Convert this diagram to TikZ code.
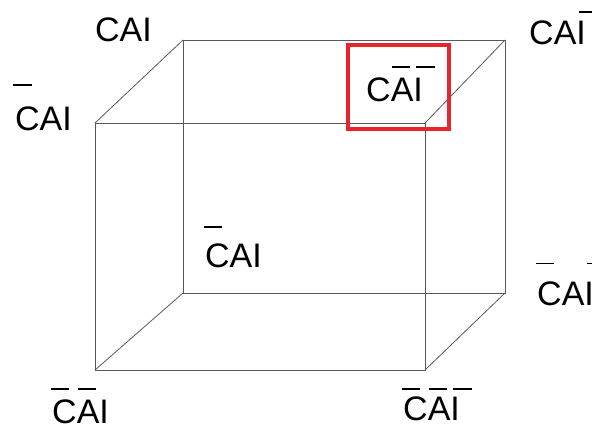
\documentclass[tikz,border=0pt]{standalone}
\usepackage{fontspec}
\setmainfont{Liberation Sans}
% bar above a letter: #1 = offset from left edge, #2 = letter; \barraise sets height
\newlength\barraise
\setlength\barraise{1.05em}
\newcommand\ovl[2]{\setbox0\hbox{#2}\rlap{\hspace{#1}\raisebox{\barraise}{\rule{0.55em}{0.05em}}}\box0}
\newcommand\oC{\ovl{-0.05em}{C}}
\newcommand\oA{\ovl{0.03em}{A}}
\newcommand\oI{\ovl{0.08em}{I}}
\tikzset{
  edge/.style={draw=black!65, line width=0.8pt},
  lbl/.style={anchor=base west, inner sep=0pt, font=\fontsize{34}{40}\selectfont},
  hilite/.style={draw={rgb,255:red,232;green,36;blue,44}, line width=4.5pt}
}
\begin{document}
\begin{tikzpicture}[x=1pt,y=-1pt]
\useasboundingbox (0,0) rectangle (592,428);
% cube corners
\coordinate (FTL) at (95,123);
\coordinate (FTR) at (425,123);
\coordinate (FBL) at (95,370);
\coordinate (FBR) at (425,370);
\coordinate (BTL) at (183,40);
\coordinate (BTR) at (505,40);
\coordinate (BBL) at (183,293);
\coordinate (BBR) at (505,293);
% back face
\draw[edge] (BTL) -- (BTR) -- (BBR) -- (BBL) -- cycle;
% front face
\draw[edge] (FTL) -- (FTR) -- (FBR) -- (FBL) -- cycle;
% connecting edges
\draw[edge] (FTL) -- (BTL);
\draw[edge] (FTR) -- (BTR);
\draw[edge] (FBL) -- (BBL);
\draw[edge] (FBR) -- (BBR);
% labels
\node[lbl] (l1) at (95,42) {CAI};
\node[lbl] (l2) at (15,130) {\setlength\barraise{1.3em}\oC AI};
\node[lbl] (l3) at (529,45) {\setlength\barraise{0.94em}CA\oI};
\node[lbl] (l4) at (366,101) {\setlength\barraise{0.97em}C\oA\oI};
\node[lbl] (l5) at (205,267) {\setlength\barraise{1.15em}\oC AI};
\node[lbl] (l6) at (537,305) {\setlength\barraise{1.2em}\oC A\oI};
\node[lbl] (l7) at (52,423) {\setlength\barraise{0.97em}\oC\oA I};
\node[lbl] (l8) at (403,420) {\setlength\barraise{0.88em}\oC\oA\oI};
% highlight box
\node[hilite, minimum width=101pt, minimum height=84pt, inner sep=0pt] (box) at (398.5,87) {};
\end{tikzpicture}
\end{document}
